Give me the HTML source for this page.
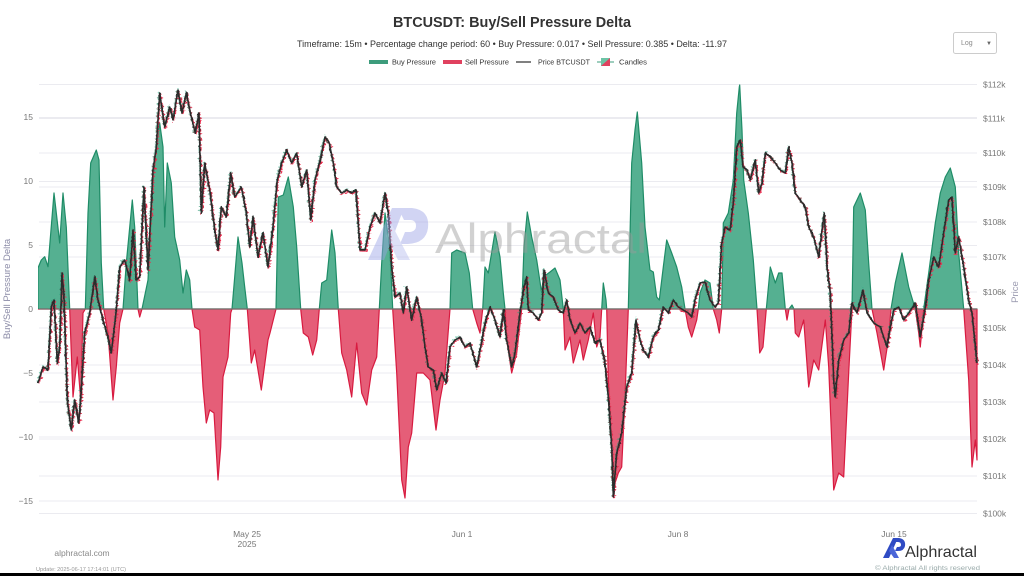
<!DOCTYPE html>
<html><head><meta charset="utf-8">
<style>
html,body{margin:0;padding:0;background:#fff;}
body{width:1024px;height:576px;overflow:hidden;position:relative;font-family:"Liberation Sans",sans-serif;}
svg{position:absolute;left:0;top:0;}
</style></head>
<body>
<svg width="1024" height="576" viewBox="0 0 1024 576" xmlns="http://www.w3.org/2000/svg" font-family="Liberation Sans, sans-serif">
<defs>
<clipPath id="above"><rect x="38" y="60" width="940" height="249"/></clipPath>
<clipPath id="below"><rect x="38" y="309" width="940" height="220"/></clipPath>
<filter id="jag" x="-5%" y="-10%" width="110%" height="120%">
<feTurbulence type="fractalNoise" baseFrequency="0.12 0.35" numOctaves="2" seed="3" result="n"/>
<feDisplacementMap in="SourceGraphic" in2="n" scale="3" xChannelSelector="R" yChannelSelector="G"/>
</filter>
<filter id="jag2" x="-5%" y="-10%" width="110%" height="120%">
<feTurbulence type="fractalNoise" baseFrequency="0.2 0.5" numOctaves="2" seed="7" result="n"/>
<feDisplacementMap in="SourceGraphic" in2="n" scale="6" xChannelSelector="R" yChannelSelector="G"/>
</filter>
</defs>
<rect x="0" y="0" width="1024" height="576" fill="#fff"/>
<!-- title -->
<text x="393" y="27" font-size="14.5" font-weight="bold" fill="#333" textLength="238" lengthAdjust="spacingAndGlyphs">BTCUSDT: Buy/Sell Pressure Delta</text>
<text x="297" y="47" font-size="9" fill="#333" textLength="430" lengthAdjust="spacingAndGlyphs">Timeframe: 15m  •  Percentage change period: 60  •  Buy Pressure: 0.017 • Sell Pressure: 0.385 • Delta: -11.97</text>
<!-- legend -->
<rect x="369" y="60" width="19" height="4" fill="#3d9c7c"/>
<text x="392" y="64.5" font-size="7.5" fill="#333" textLength="44" lengthAdjust="spacingAndGlyphs">Buy Pressure</text>
<rect x="443" y="60" width="19" height="4" fill="#e0415f"/>
<text x="465" y="64.5" font-size="7.5" fill="#333" textLength="44" lengthAdjust="spacingAndGlyphs">Sell Pressure</text>
<line x1="516" y1="62" x2="531" y2="62" stroke="#555" stroke-width="1.5"/>
<text x="538" y="64.5" font-size="7.5" fill="#333" textLength="52" lengthAdjust="spacingAndGlyphs">Price BTCUSDT</text>
<line x1="597" y1="62" x2="614" y2="62" stroke="#3d9c7c" stroke-width="1"/>
<rect x="601" y="58" width="9" height="8" fill="#e0415f"/>
<polygon points="601,58 610,58 601,66" fill="#6cc3a5"/>
<text x="619" y="64.5" font-size="7.5" fill="#333" textLength="28" lengthAdjust="spacingAndGlyphs">Candles</text>
<!-- log dropdown -->
<rect x="953.5" y="32.5" width="43" height="21" rx="2" fill="#fff" stroke="#ccc"/>
<text x="961" y="45" font-size="7" fill="#888">Log</text>
<text x="986" y="45" font-size="6" fill="#666">▼</text>
<!-- grid -->
<g stroke="#ebebf0" stroke-width="1">
<line x1="39" y1="84.5" x2="977" y2="84.5"/><line x1="39" y1="117.5" x2="977" y2="117.5"/>
<line x1="39" y1="118.5" x2="977" y2="118.5"/><line x1="39" y1="153" x2="977" y2="153"/>
<line x1="39" y1="181.5" x2="977" y2="181.5"/><line x1="39" y1="187" x2="977" y2="187"/>
<line x1="39" y1="222" x2="977" y2="222"/><line x1="39" y1="245.5" x2="977" y2="245.5"/>
<line x1="39" y1="257" x2="977" y2="257"/><line x1="39" y1="292" x2="977" y2="292"/>
<line x1="39" y1="328" x2="977" y2="328"/><line x1="39" y1="365" x2="977" y2="365"/>
<line x1="39" y1="373" x2="977" y2="373"/><line x1="39" y1="402" x2="977" y2="402"/>
<line x1="39" y1="437" x2="977" y2="437"/><line x1="39" y1="439" x2="977" y2="439"/>
<line x1="39" y1="476" x2="977" y2="476"/><line x1="39" y1="501" x2="977" y2="501"/>
<line x1="39" y1="513.5" x2="977" y2="513.5"/>
</g>
<!-- left axis labels -->
<g font-size="8.5" fill="#777" text-anchor="end">
<text x="33" y="120">15</text><text x="33" y="184">10</text><text x="33" y="248">5</text>
<text x="33" y="312">0</text><text x="33" y="376">−5</text><text x="33" y="440">−10</text><text x="33" y="504">−15</text>
</g>
<text transform="translate(10,289) rotate(-90)" font-size="9.5" fill="#8a8aa6" text-anchor="middle">Buy/Sell Pressure Delta</text>
<!-- right axis labels -->
<g font-size="8.5" fill="#777">
<text x="983" y="87.5">$112k</text><text x="983" y="121.5">$111k</text><text x="983" y="156">$110k</text>
<text x="983" y="190">$109k</text><text x="983" y="225">$108k</text><text x="983" y="260">$107k</text>
<text x="983" y="295">$106k</text><text x="983" y="331">$105k</text><text x="983" y="368">$104k</text>
<text x="983" y="405">$103k</text><text x="983" y="442">$102k</text><text x="983" y="479">$101k</text>
<text x="983" y="516.5">$100k</text>
</g>
<text transform="translate(1018,292) rotate(-90)" font-size="9.5" fill="#9a9ab0" text-anchor="middle">Price</text>
<!-- x axis labels -->
<g font-size="8.5" fill="#777" text-anchor="middle">
<text x="247" y="537">May 25</text><text x="247" y="547">2025</text>
<text x="462" y="537">Jun 1</text><text x="678" y="537">Jun 8</text><text x="894" y="537">Jun 15</text>
</g>
<!-- delta area -->
<defs>
<polygon id="dpoly" points="38,309 38,268 41.3,260 44.7,256.7 48,266.7 54,193 56.3,213 59.7,243 63,193 66.3,227 69.7,309 71.3,353 73,397 77.3,357 80.7,400 83,313 85.3,309 88,213 90.7,163 96.3,150 99,160 101.3,263 103.7,309 108,333 113,400 116.3,367 119.7,323 123,309 126.3,263 132.3,200 134.7,227 138,309 139.7,317 142,309 148,280 153,180 156.3,147 159.7,123 163,147 164.7,227 167.3,163 171.3,183 174.7,237 179.7,260 183,293 186.3,270 189.7,280 192,309 194.7,327 199.7,330 203,387 206.3,423 209.7,410 214,413 218,480 220.7,447 223,377 228,357 230.7,313 232,309 234.7,277 238,237 242,263 244.7,287 247.3,309 251.3,363 254.7,350 261.3,390 268,340 270,333 275,313 276,309 278.3,197 283.3,195 288.3,177 293.3,207 296.7,247 300.7,309 303.3,333 308.3,337 312.7,355 316.7,340 319.3,309 321.7,283 326.7,280 331.7,230 335,253 338.3,309 341.7,353 346.7,370 351.7,397 356.7,343 361.7,393 366.7,405 371.7,370 376.7,357 379.3,309 381.7,263 385,213 390,250 392.7,309 396.7,373 401.7,480 405,498 408.3,447 411.7,433 416.7,373 423.3,373 430,380 436,430 440,400 445,373 450,309 451.7,253 456.7,250 465,253 469.3,273 472.7,309 476.7,323 480,333 482.7,309 485,267 488.3,273 495,232 500,257 503.3,293 505,309 506.7,340 511.7,373 516.7,353 521.7,309 524,247 527.3,212 531.7,237 536.7,260 541.7,293 543.3,277 550,272 555,268 560,280 563.3,309 565,350 570,337 573.3,363 580,340 583.3,360 588.3,340 593.3,313 596.7,347 600,337 601.7,309 603.3,283 606,300 606.7,309 608.3,380 611.7,450 615,483 618.3,473 621.7,467 625,397 628.3,309 631.7,163 635,130 637.3,112 641.7,163 645,227 650,270 653.3,272 656.7,297 659.3,300 663.3,267 666.7,240 671.7,253 676.7,267 681.7,287 685,309 688.3,327 691.7,337 696.7,320 698.3,309 700,293 705,280 710,283 713.3,309 716.7,320 719.3,333 721.7,309 723.3,223 728.3,213 733.3,180 736.7,113 739.3,87 739.7,85 742,130 743.7,180 748.3,213 753.3,260 757,309 759.7,353 763,347 766.3,309 770.3,267 775.3,283 778.7,273 782,273 785.3,309 787,320 789,309 792,305 794,309 795.3,333 798.7,337 803.7,320 808.7,387 813.7,360 818.7,370 825.3,320 828.7,367 833.7,490 838.7,473 843.7,477 848.7,373 852,309 853.7,207 860.3,193 865.3,210 868.7,263 872,309 877,333 883.7,370 888.7,337 891,309 895.3,283 902,253 908.7,287 915.3,309 918.7,333 920.3,347 923.7,309 928.7,273 935.3,223 940.3,193 945.3,177 950.3,168 955.3,187 958.7,253 963.7,309 968.7,380 972,467 975.3,440 977,460 977,309"/>
</defs>
<use href="#dpoly" clip-path="url(#above)" fill="#55b091" stroke="#1f8c67" stroke-width="1.2" stroke-linejoin="round"/>
<use href="#dpoly" clip-path="url(#below)" fill="#e55e78" stroke="#d81b40" stroke-width="1.2" stroke-linejoin="round"/>
<line x1="39" y1="309" x2="977" y2="309" stroke="#7d6f6f" stroke-width="1.3"/>
<!-- price -->
<defs>
<polyline id="pline" fill="none" stroke-linejoin="round" points="38,383 43,367 48,370 51.3,307 54,300 57.3,363 59.7,347 62,273 64,297 67.3,400 71.3,430 74.7,400 78.7,423 81.3,390 84.7,333 89.7,313 94.7,277 98,300 103,320 108,337 111.3,353 116.3,310 119.7,267 124.7,260 129.7,280 133,230 136.3,280 139.7,277 144,187 148,270 153,170 156.3,147 159.7,93 164.7,127 169.7,107 173,120 178,90 182,113 186.3,93 191.3,117 195.3,133 199,113 201.3,213 204.7,163 209.7,190 214.7,230 218,250 221.3,207 226.3,217 230.7,173 234.7,197 241.3,187 246.3,213 249.7,247 253,217 258,257 263,233 268,267 273,227 277.3,180 281.7,163 286.7,150 291.7,163 296.7,153 301.7,187 306.7,170 310.7,220 315,180 320,160 325,137 329.3,143 333.3,163 336.7,187 341.7,193 346.7,190 351.7,193 356,190 360,250 365,250 370,227 375,213 380,223 385,193 388.3,213 391.7,267 395,297 400,293 403.3,313 406.7,287 411.7,320 416.7,297 421.7,320 425,347 428.3,367 433.3,370 436.7,390 441.7,373 446,383 450,347 455,340 460,337 465,347 470,343 476.7,367 480.7,347 485,323 490,307 495,320 500,337 503.3,310 506.7,340 511.7,367 515,353 520,313 524,287 526.7,277 528.3,310 533.3,313 538.3,320 541.7,313 544,270 548.3,293 553.3,297 558.3,310 563.3,313 566.7,300 570,320 575,333 580,323 585,333 590,327 595,343 600,340 605,363 608.3,397 611.7,447 613.3,497 616.7,453 621.7,433 626.7,387 631.7,373 636,320 640,340 643.3,350 648.3,357 653.3,337 658.3,330 663.3,307 668.3,313 673.3,300 678.3,307 683.3,310 688.3,313 691.7,317 695,300 700,283 705,282 710,300 715,307 718.3,303 721.7,243 725,227 730,230 733.3,203 736.7,147 740.3,140 743,167 747,170 750.3,180 755.3,160 758.7,193 762,183 765.3,153 770.3,157 775.3,163 780.3,170 785.3,173 788.7,147 792,163 795.3,193 800.3,200 805.3,207 808.7,227 813.7,237 818.7,257 822,230 824.3,213 827,267 830.3,293 833.7,380 835.3,397 838.7,360 843.7,340 848.7,333 852,303 857,313 863,290 867,313 873.7,323 880.3,327 887,347 890.3,327 893.7,310 898.7,307 903.7,320 908.7,313 915.3,303 920.3,337 925.3,307 928.7,280 933.7,257 938.7,267 943.7,233 948.7,200 952,197 955.3,253 958.7,237 963.7,267 968.7,300 972,313 977,363"/>
</defs>
<g filter="url(#jag2)">
<use href="#pline" transform="translate(0.5,0.8)" stroke="#ea2f50" stroke-width="1.6"/>
</g>
<g filter="url(#jag2)">
<use href="#pline" transform="translate(-0.5,-0.8)" stroke="#2aa57f" stroke-width="1.1" opacity="0.6"/>
</g>
<use href="#pline" stroke="#333" stroke-width="1.5"/>
<g filter="url(#jag)">
<use href="#pline" stroke="#2c2c2c" stroke-width="1.3"/>
</g>
<!-- watermark -->
<g opacity="0.45">
<path d="M368,260 L392,208 L404,208 L384,260 Z" fill="#9aa2e6"/>
<path d="M398,208 L412,208 Q430,210 428,228 Q426,243 408,244 L400,244 L405,232 L410,232 Q416,231 416,226 Q416,220 410,220 L404,220 Z" fill="#9aa2e6"/>
<path d="M392,225 L410,260 L398,260 L386,236 Z" fill="#b4bbef"/>
<text x="435" y="253" font-size="42" fill="#9a9a9a" textLength="212" lengthAdjust="spacingAndGlyphs">Alphractal</text>
</g>
<!-- footer -->
<text x="82" y="556" font-size="8.5" fill="#888" text-anchor="middle">alphractal.com</text>
<text x="36" y="571" font-size="5.5" fill="#999" textLength="90" lengthAdjust="spacingAndGlyphs">Update: 2025-06-17 17:14:01 (UTC)</text>
<path d="M883,558 L893,538 L898,538 L889,558 Z" fill="#2f4bc4"/>
<path d="M895,538 L899,538 Q906,539 905,546 Q904,551 898,551 L895,551 L897,547 L898,547 Q901,547 901,545 Q901,542 898,542 L894,542 Z" fill="#2f4bc4"/>
<path d="M892,545 L899,558 L894,558 L889,551 Z" fill="#4a65d8"/>
<text x="905" y="557" font-size="16" fill="#333" textLength="72" lengthAdjust="spacingAndGlyphs">Alphractal</text>
<text x="875" y="570" font-size="6.5" fill="#9aa" textLength="105" lengthAdjust="spacingAndGlyphs">© Alphractal All rights reserved</text>
<rect x="0" y="573" width="1024" height="3" fill="#000"/>
</svg>
</body></html>
